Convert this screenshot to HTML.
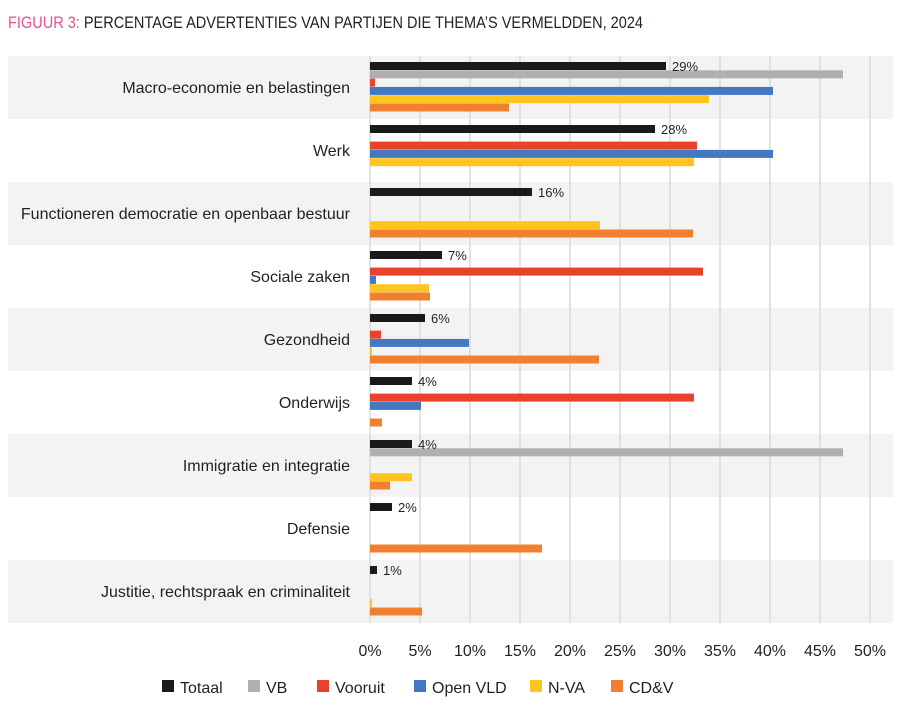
<!DOCTYPE html>
<html><head><meta charset="utf-8"><style>
body{margin:0;background:#fff}
svg{display:block;font-family:"Liberation Sans Narrow","Liberation Sans",sans-serif}
</style></head><body>
<svg width="900" height="725" viewBox="0 0 900 725" xmlns="http://www.w3.org/2000/svg">
<text x="8" y="28" font-size="17" fill="#231f20" textLength="635" lengthAdjust="spacingAndGlyphs"><tspan fill="#e6508c">FIGUUR 3:</tspan> PERCENTAGE ADVERTENTIES VAN PARTIJEN DIE THEMA’S VERMELDDEN, 2024</text>
<g fill="#f3f3f3">
<rect x="8" y="56" width="885" height="63"/>
<rect x="8" y="182" width="885" height="63"/>
<rect x="8" y="308" width="885" height="63"/>
<rect x="8" y="434" width="885" height="63"/>
<rect x="8" y="560" width="885" height="63"/>
</g>
<g stroke="#d9d9d9" stroke-width="1.5">
<line x1="370" y1="56" x2="370" y2="623"/><line x1="420" y1="56" x2="420" y2="623"/><line x1="470" y1="56" x2="470" y2="623"/><line x1="520" y1="56" x2="520" y2="623"/><line x1="570" y1="56" x2="570" y2="623"/><line x1="620" y1="56" x2="620" y2="623"/><line x1="670" y1="56" x2="670" y2="623"/><line x1="720" y1="56" x2="720" y2="623"/><line x1="770" y1="56" x2="770" y2="623"/><line x1="820" y1="56" x2="820" y2="623"/><line x1="870" y1="56" x2="870" y2="623"/>
</g>
<g>
<rect x="370" y="62" width="296" height="8" fill="#1a1a1a"/>
<rect x="370" y="70.3" width="473" height="8" fill="#afafaf"/>
<rect x="370" y="78.6" width="5" height="8" fill="#e8412c"/>
<rect x="370" y="86.9" width="403" height="8" fill="#4479c1"/>
<rect x="370" y="95.2" width="339" height="8" fill="#fec420"/>
<rect x="370" y="103.5" width="139" height="8" fill="#f07f30"/>

<rect x="370" y="125" width="285" height="8" fill="#1a1a1a"/>
<rect x="370" y="141.6" width="327" height="8" fill="#e8412c"/>
<rect x="370" y="149.9" width="403" height="8" fill="#4479c1"/>
<rect x="370" y="158.2" width="324" height="8" fill="#fec420"/>

<rect x="370" y="188" width="162" height="8" fill="#1a1a1a"/>
<rect x="370" y="221.2" width="230" height="8" fill="#fec420"/>
<rect x="370" y="229.5" width="323" height="8" fill="#f07f30"/>

<rect x="370" y="251" width="72" height="8" fill="#1a1a1a"/>
<rect x="370" y="267.6" width="333" height="8" fill="#e8412c"/>
<rect x="370" y="275.9" width="6" height="8" fill="#4479c1"/>
<rect x="370" y="284.2" width="59" height="8" fill="#fec420"/>
<rect x="370" y="292.5" width="60" height="8" fill="#f07f30"/>

<rect x="370" y="314" width="55" height="8" fill="#1a1a1a"/>
<rect x="370" y="330.6" width="11" height="8" fill="#e8412c"/>
<rect x="370" y="338.9" width="99" height="8" fill="#4479c1"/>
<rect x="370" y="347.2" width="2" height="8" fill="#fec420"/>
<rect x="370" y="355.5" width="229" height="8" fill="#f07f30"/>

<rect x="370" y="377" width="42" height="8" fill="#1a1a1a"/>
<rect x="370" y="393.6" width="324" height="8" fill="#e8412c"/>
<rect x="370" y="401.9" width="51" height="8" fill="#4479c1"/>
<rect x="370" y="418.5" width="12" height="8" fill="#f07f30"/>

<rect x="370" y="440" width="42" height="8" fill="#1a1a1a"/>
<rect x="370" y="448.3" width="473" height="8" fill="#afafaf"/>
<rect x="370" y="473.2" width="42" height="8" fill="#fec420"/>
<rect x="370" y="481.5" width="20" height="8" fill="#f07f30"/>

<rect x="370" y="503" width="22" height="8" fill="#1a1a1a"/>
<rect x="370" y="544.5" width="172" height="8" fill="#f07f30"/>

<rect x="370" y="566" width="7" height="8" fill="#1a1a1a"/>
<rect x="370" y="599.2" width="2" height="8" fill="#fec420"/>
<rect x="370" y="607.5" width="52" height="8" fill="#f07f30"/>
</g>
<g font-size="13" fill="#231f20">
<text x="672" y="71">29%</text>
<text x="661" y="134">28%</text>
<text x="538" y="197">16%</text>
<text x="448" y="260">7%</text>
<text x="431" y="323">6%</text>
<text x="418" y="386">4%</text>
<text x="418" y="449">4%</text>
<text x="398" y="512">2%</text>
<text x="383" y="575">1%</text>
</g>
<g font-size="16" fill="#231f20" text-anchor="end">
<text x="350" y="93">Macro-economie en belastingen</text>
<text x="350" y="156">Werk</text>
<text x="350" y="219">Functioneren democratie en openbaar bestuur</text>
<text x="350" y="282">Sociale zaken</text>
<text x="350" y="345">Gezondheid</text>
<text x="350" y="408">Onderwijs</text>
<text x="350" y="471">Immigratie en integratie</text>
<text x="350" y="534">Defensie</text>
<text x="350" y="597">Justitie, rechtspraak en criminaliteit</text>
</g>
<g font-size="16" fill="#231f20" text-anchor="middle">
<text x="370" y="656">0%</text><text x="420" y="656">5%</text><text x="470" y="656">10%</text><text x="520" y="656">15%</text><text x="570" y="656">20%</text><text x="620" y="656">25%</text><text x="670" y="656">30%</text><text x="720" y="656">35%</text><text x="770" y="656">40%</text><text x="820" y="656">45%</text><text x="870" y="656">50%</text>
</g>
<g font-size="16" fill="#231f20">
<rect x="162" y="680" width="12" height="12" fill="#1a1a1a"/><text x="180" y="693">Totaal</text>
<rect x="248" y="680" width="12" height="12" fill="#afafaf"/><text x="266" y="693">VB</text>
<rect x="317" y="680" width="12" height="12" fill="#e8412c"/><text x="335" y="693">Vooruit</text>
<rect x="414" y="680" width="12" height="12" fill="#4479c1"/><text x="432" y="693">Open VLD</text>
<rect x="530" y="680" width="12" height="12" fill="#fec420"/><text x="548" y="693">N-VA</text>
<rect x="611" y="680" width="12" height="12" fill="#f07f30"/><text x="629" y="693">CD&amp;V</text>
</g>
</svg>
</body></html>
